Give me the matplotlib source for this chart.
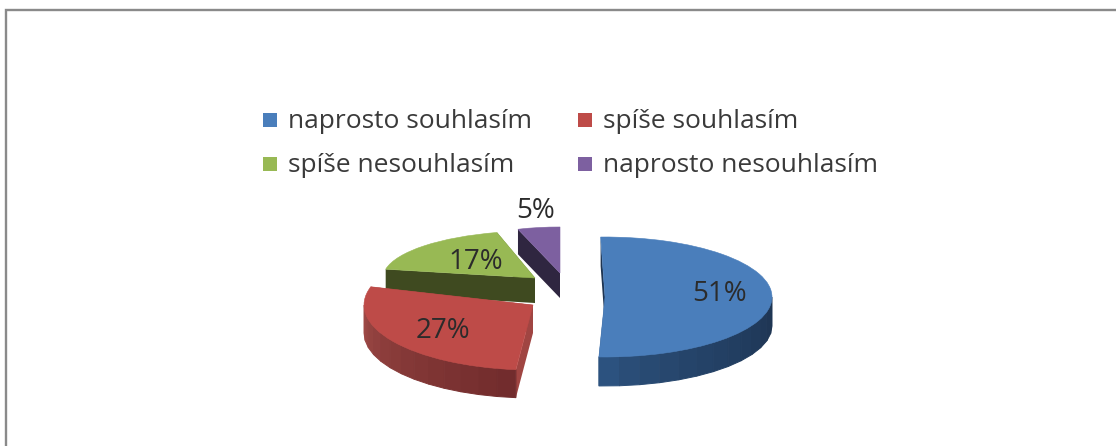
import numpy as np
import matplotlib
matplotlib.use("Agg")
import matplotlib.pyplot as plt
from matplotlib.patches import Wedge, Rectangle
from matplotlib.transforms import Affine2D
from matplotlib.colors import to_rgb

plt.rcParams['font.family'] = ['Open Sans', 'DejaVu Sans']

categories = ['naprosto souhlasím', 'spíše souhlasím', 'spíše nesouhlasím', 'naprosto nesouhlasím']
values = [51, 27, 17, 5]
colors = ['#4a7ebb', '#be4b48', '#98b954', '#7d60a0']
cut_colors = ['#1f3552', '#a04542', '#3f4a20', '#2f2640']
side_left = ['#2c527f', '#a24c48', '#3f4a20', '#2f2640']
side_right = ['#1d3350', '#6f2a2b', '#3f4a20', '#2f2640']

# per slice layout, the chart is a perspective view so every slice differs
centers = [(605, 297), (533, 305), (535, 278), (560, 273)]
radii = [(167, 60), (169, 65), (152, 47), (136, 46)]
depths = [29, 28, 25, 25]
angle_shift = [(1.5, 1.5), (-2.2, -5.5), (0, -3.5), (0, 0)]
label_pos = [(719, 294), (443, 331), (476, 262), (536, 211)]
legend_pos = [(263, 120), (578, 120), (263, 164), (578, 164)]

fig = plt.figure(figsize=(11.16, 4.46), dpi=100)
ax = fig.add_axes([0, 0, 1, 1])
ax.set_xlim(0, 1116)
ax.set_ylim(446, 0)
ax.axis('off')

ax.plot([6, 6, 1116], [446, 10, 10], color='#8a8a8a', lw=1.7, solid_joinstyle='miter')

# start at 12 o'clock and go clockwise
edges = 90 - 3.6 * np.concatenate([[0], np.cumsum(values)])


def point(c, r, deg):
    return c[0] + r[0] * np.cos(np.radians(deg)), c[1] - r[1] * np.sin(np.radians(deg))


# back slices first
for i in [3, 2, 1, 0]:
    c, r, d = centers[i], radii[i], depths[i]
    start, end = edges[i] + angle_shift[i][0], edges[i + 1] + angle_shift[i][1]

    # flat cut faces, from tip out to both ends of the arc
    for a in [start, end]:
        x, y = point(c, r, a)
        ax.fill([c[0], x, x, c[0]], [c[1], y, y + d, c[1] + d],
                color=cut_colors[i], lw=0, zorder=i * -3)

    # outer wall in narrow bands, only the part turned to the viewer
    lo, hi = max(end, -180), min(start, 0)
    if hi > lo:
        a_edges = np.linspace(lo, hi, 14)
        c_l, c_r = np.array(to_rgb(side_left[i])), np.array(to_rgb(side_right[i]))
        for a0, a1 in zip(a_edges[:-1], a_edges[1:]):
            x0, y0 = point(c, r, a0)
            x1, y1 = point(c, r, a1)
            t = (a0 - lo) / (hi - lo)
            col = c_l + (c_r - c_l) * t ** 0.7
            ax.fill([x0, x1, x1, x0], [y0, y1, y1 + d, y0 + d], color=col, lw=0.7,
                    ec=col, zorder=i * -3 + 1)

    top = Wedge((0, 0), 1, end, start, fc=colors[i], ec=colors[i], lw=0.4, zorder=i * -3 + 2,
                transform=Affine2D().scale(r[0], -r[1]).translate(c[0], c[1]) + ax.transData)
    ax.add_patch(top)

for v, (x, y) in zip(values, label_pos):
    ax.text(x, y, f'{v}%', ha='center', va='center', fontsize=20, color='#2b2b2b', zorder=5)

for name, col, (x, y) in zip(categories, colors, legend_pos):
    ax.add_patch(Rectangle((x, y - 7), 14, 14, fc=col, ec='none'))
    ax.text(x + 25, y + 1, name, ha='left', va='center', fontsize=19, color='#3a3a3a')

fig.savefig('out.png', dpi=100)
